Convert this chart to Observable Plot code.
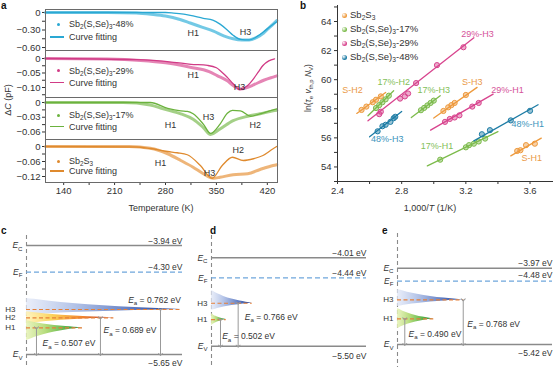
<!DOCTYPE html>
<html><head><meta charset="utf-8">
<script src="https://cdn.jsdelivr.net/npm/d3@7"></script>
<script src="https://cdn.jsdelivr.net/npm/@observablehq/plot@0.6"></script>
<style>
body{margin:0;background:#fff;font-family:"Liberation Sans",Arial,Helvetica,sans-serif;}
#fig{position:relative;width:553px;height:367px;overflow:hidden;background:#fff;}
.t{position:absolute;font-size:9px;color:#333;white-space:nowrap;line-height:10px;}
.t sub{font-size:70%;vertical-align:-0.3em;line-height:0;}
.lab{position:absolute;font-weight:bold;font-size:10px;color:#111;line-height:10px;}
.sw{position:absolute;}
</style></head><body><div id="fig"></div>
<script>
// ---------------- DATA ----------------
// Panel a : temperature (K) and ΔC (pF)
const aXTicks = [140,175,210,245,280,315,350,385,420];
const aXLabels = [140,210,280,350,420];

const a48DataT = [115,200,240,260,280,300,314,330,346,360,373,385,395,405,413,420,428,433];
const a48DataV = [0,0,-0.01,-0.03,-0.06,-0.12,-0.18,-0.25,-0.32,-0.40,-0.45,-0.47,-0.47,-0.43,-0.37,-0.29,-0.20,-0.14];
const a48FitT  = [115,280,291,305,314,332,345,355,365,373,383,395,406,415,424,433];
const a48FitV  = [0,0,-0.01,-0.03,-0.05,-0.10,-0.13,-0.20,-0.30,-0.39,-0.46,-0.47,-0.41,-0.33,-0.24,-0.16];

const a29DataT = [115,200,246,280,314,340,351,365,373,383,392,401,415,428,433];
const a29DataV = [0,-0.002,-0.007,-0.015,-0.03,-0.045,-0.059,-0.077,-0.093,-0.105,-0.10,-0.091,-0.075,-0.064,-0.06];
const a29FitT  = [115,240,291,315,338,350,355,365,373,382,392,401,408,414,422,430];
const a29FitV  = [0,-0.004,-0.013,-0.02,-0.024,-0.032,-0.041,-0.065,-0.087,-0.107,-0.095,-0.07,-0.045,-0.024,-0.008,-0.001];

const a17DataT = [115,222,259,277,301,318,332,342,355,373,393,410,428,433];
const a17DataV = [0,0,-0.005,-0.013,-0.023,-0.034,-0.051,-0.065,-0.054,-0.037,-0.028,-0.023,-0.017,-0.016];
const a17FitT  = [115,259,283,301,310,318,332,342,355,365,372,383,397,410,428,433];
const a17FitV  = [0,0,-0.012,-0.017,-0.018,-0.023,-0.044,-0.063,-0.044,-0.022,-0.016,-0.017,-0.028,-0.023,-0.015,-0.013];

const aSDataT = [115,230,259,283,301,318,332,346,355,373,393,410,428,433];
const aSDataV = [0,0,-0.007,-0.029,-0.056,-0.083,-0.109,-0.127,-0.123,-0.113,-0.109,-0.092,-0.076,-0.073];
const aSFitT  = [115,240,259,283,296,310,328,344,358,372,387,401,414,428,433];
const aSFitV  = [0,-0.002,-0.008,-0.02,-0.025,-0.033,-0.076,-0.127,-0.076,-0.043,-0.056,-0.049,-0.036,-0.009,0];

const aSamples = ["Sb_{2}(S,Se)_{3}-48%","Sb_{2}(S,Se)_{3}-29%","Sb_{2}(S,Se)_{3}-17%","Sb_{2}S_{3}"];

// Panel b : 1000/T (1/K) and ln(τ v N)
const bXTicks = [2.4,2.6,2.8,3.0,3.2,3.4,3.6];
const bXLabels = [2.4,2.8,3.2,3.6];
const bYTicks = [53,54,55,56,57,58,59,60,61,62,63,64,65];
const bYLabels = [54,56,58,60,62,64];
const bSamples = ["Sb_{2}S_{3}","Sb_{2}(S,Se)_{3}-17%","Sb_{2}(S,Se)_{3}-29%","Sb_{2}(S,Se)_{3}-48%"];
const bTraps      = ["S-H2","17%-H2","17%-H3","S-H3","29%-H3","29%-H1","48%-H3","17%-H1","48%-H1","S-H1"];
const bTrapSample = [0,1,1,0,2,2,3,1,3,0];
const bFitStart = [[2.52,57.68],[2.59,57.52],[2.86,57.40],[3.00,57.36],[2.59,57.17],[2.98,56.53],[2.60,56.07],[2.96,54.07],[3.25,55.79],[3.48,54.76]];
const bFitEnd   = [[2.70,59.12],[2.75,59.24],[3.04,58.90],[3.27,59.47],[3.25,62.88],[3.37,59.01],[2.80,57.81],[3.40,56.43],[3.65,58.28],[3.67,55.98]];
const bPoints = [
  [[2.55,57.92],[2.58,58.15],[2.62,58.45],[2.64,58.62],[2.67,58.85]],
  [[2.64,58.05],[2.66,58.25],[2.68,58.45],[2.70,58.65],[2.72,58.90]],
  [[2.92,57.90],[2.94,58.06],[2.96,58.23],[2.98,58.40],[3.00,58.56]],
  [[3.06,57.85],[3.09,58.10],[3.11,58.25],[3.13,58.40],[3.20,58.95]],
  [[2.66,57.63],[2.67,57.80],[2.79,58.70],[2.82,58.85],[2.84,59.05],[2.89,59.77],[3.02,61.00],[3.185,62.23]],
  [[3.07,57.10],[3.10,57.30],[3.13,57.40],[3.16,57.55],[3.24,58.15],[3.28,58.40]],
  [[2.65,56.45],[2.68,56.80],[2.70,56.90],[2.73,57.10],[2.75,57.35],[2.76,57.45]],
  [[3.04,54.50],[3.20,55.35],[3.22,55.50],[3.25,55.60],[3.28,55.75],[3.32,55.95]],
  [[3.30,56.25],[3.35,56.53],[3.48,57.20],[3.60,57.86]],
  [[3.52,55.10],[3.54,55.15],[3.575,55.50],[3.63,55.60]]
];

// Panels c, d, e : energy levels (eV)
const cLevels = {EC:-3.94, EF:-4.359, EV:-5.65};
const cLevelText = ["−3.94 eV","−4.30 eV","−5.65 eV"];
const cTrapNames = ["H3","H2","H1"];
const cTrapLevel = [-4.944,-5.074,-5.231];
const cEa = ["0.762","0.689","0.507"];

const dLevels = {EC:-4.01, EF:-4.347, EV:-5.50};
const dLevelText = ["−4.01 eV","−4.44 eV","−5.50 eV"];
const dTrapNames = ["H3","H1"];
const dTrapLevel = [-4.776,-5.051];
const dEa = ["0.766","0.502"];

const eLevels = {EC:-3.97, EF:-4.217, EV:-5.42};
const eLevelText = ["−3.97 eV","−4.48 eV","−5.42 eV"];
const eTrapNames = ["H3","H1"];
const eTrapLevel = [-4.571,-4.932];
const eEa = ["0.768","0.490"];

// taper profile of the trap distributions
const wedgeT = [0,0.05,0.15,0.3,0.5,0.7,0.85,1];
const wedgeH = [1,0.92,0.74,0.54,0.33,0.17,0.08,0];

// ---------------- HELPERS ----------------
const NS = "http://www.w3.org/2000/svg";
const FONT = "'Liberation Sans', Arial, Helvetica, sans-serif";
const fig = document.getElementById("fig");
function mount(el, left, top){ el.style.position="absolute"; el.style.left=left+"px"; el.style.top=top+"px"; fig.appendChild(el);
  el.querySelectorAll("text").forEach(t=>{ if(!t.textContent.trim()) t.remove(); }); return el; }
function html(s){ return s.replace(/_\{([^}]*)\}/g,"<sub>$1</sub>").replace(/\*([^*]*)\*/g,"<i>$1</i>"); }
function note(text, left, top, opts={}){
  const d=document.createElement("div"); d.className=opts.cls||"t"; d.innerHTML=html(text);
  d.style.left=left+"px"; d.style.top=top+"px";
  if(opts.color) d.style.color=opts.color;
  if(opts.size) d.style.fontSize=opts.size+"px";
  if(opts.transform) d.style.transform=opts.transform;
  fig.appendChild(d); return d;
}
function rich(root){
  root.querySelectorAll("text").forEach(t=>{
    const tsp=[...t.querySelectorAll("tspan")];
    const targets=tsp.length?tsp:[t];
    for(const el of targets){
      const s=el.textContent;
      if(!/_\{|\*/.test(s)) continue;
      el.textContent="";
      const re=/_\{([^}]*)\}|\*([^*]*)\*/g; let last=0,m,shift=0;
      const add=(txt,attrs)=>{const ts=document.createElementNS(NS,"tspan");ts.textContent=txt;
        let dy=0; if(attrs.sub){dy=2.5-shift;shift=2.5;} else {dy=-shift;shift=0;}
        if(dy) ts.setAttribute("dy",dy);
        if(attrs.sub) ts.setAttribute("font-size","72%");
        if(attrs.it) ts.setAttribute("font-style","italic");
        el.appendChild(ts);};
      while((m=re.exec(s))){
        if(m.index>last) add(s.slice(last,m.index),{});
        if(m[1]!==undefined) add(m[1],{sub:true}); else add(m[2],{it:true});
        last=re.lastIndex;
      }
      if(last<s.length) add(s.slice(last),{});
    }
  });
}
function addGradient(svg, id, stops){
  let defs=svg.querySelector("defs"); if(!defs){defs=document.createElementNS(NS,"defs"); svg.insertBefore(defs, svg.firstChild);}
  const g=document.createElementNS(NS,"linearGradient"); g.setAttribute("id",id);
  g.setAttribute("x1","0"); g.setAttribute("x2","1"); g.setAttribute("y1","0"); g.setAttribute("y2","0");
  for(const [o,c,a] of stops){const s=document.createElementNS(NS,"stop"); s.setAttribute("offset",o); s.setAttribute("stop-color",c); s.setAttribute("stop-opacity",a); g.appendChild(s);}
  defs.appendChild(g);
}
const baseStyle = {fontFamily: FONT, fontSize:"9px", background:"transparent", color:"#333", overflow:"visible"};

// ---------------- PANEL a ----------------
function aPanel(o){
  const data=o.dataT.map((T,i)=>({T,v:o.dataV[i]}));
  const fit=o.fitT.map((T,i)=>({T,v:o.fitV[i]}));
  const mb=o.bottom?31:1;
  const fmt=d3.format(".2f");
  const svg=Plot.plot({
    width:280, height:o.h+1+mb, marginLeft:45, marginRight:3, marginTop:1, marginBottom:mb,
    style:{...baseStyle, fontSize:"9.5px"},
    x: o.bottom ? {domain:[115,434], ticks:aXTicks, tickFormat:d=>aXLabels.includes(d)?String(d):"", tickSize:3, tickPadding:2, label:null}
                : {domain:[115,434], axis:null},
    y: {domain:o.domain, ticks:o.ticks, tickSize:3, tickPadding:2, label:null,
        tickFormat:d=>o.majors.some(m=>Math.abs(m-d)<1e-9)?(d===0?"0":fmt(d)):""},
    marks:[
      Plot.line(data,{x:"T",y:"v",stroke:o.dataColor,strokeWidth:3,strokeOpacity:0.85,curve:"monotone-x"}),
      Plot.line(fit,{x:"T",y:"v",stroke:o.color,strokeWidth:1.3,curve:"monotone-x"}),
      Plot.text(o.labels,{x:"T",y:"v",text:"name",fontSize:9,fill:"#333"}),
      Plot.frame({stroke:"#6a6a6a"})
    ]
  });
  mount(svg,0,o.top-1);
  // legend
  note(aSamples[o.k], 69, o.legY-5);
  const dot=document.createElement("div"); dot.className="sw";
  Object.assign(dot.style,{left:(57)+"px",top:(o.legY-1.5)+"px",width:"3px",height:"3px",borderRadius:"50%",background:o.color});
  fig.appendChild(dot);
  const ln=document.createElement("div"); ln.className="sw";
  Object.assign(ln.style,{left:"50px",top:(o.legY2-0.75)+"px",width:"14px",height:"1.5px",background:o.color});
  fig.appendChild(ln);
  note("Curve fitting", 69, o.legY2-5);
}
aPanel({k:0,top:9,h:41,dataT:a48DataT,dataV:a48DataV,fitT:a48FitT,fitV:a48FitV,color:"#2AA8D3",dataColor:"#5BBFE0",
  domain:[-0.651,0.051],ticks:[0,-0.15,-0.3,-0.45,-0.6],majors:[0,-0.3,-0.6],
  labels:[{T:318,v:-0.36,name:"H1"},{T:390,v:-0.343,name:"H3"}],legY:24,legY2:37});
aPanel({k:1,top:50,h:47,dataT:a29DataT,dataV:a29DataV,fitT:a29FitT,fitV:a29FitV,color:"#D13B86",dataColor:"#E070A8",
  domain:[-0.1345,0.0276],ticks:[0,-0.025,-0.05,-0.075,-0.1,-0.125],majors:[0,-0.05,-0.1],
  labels:[{T:318,v:-0.0586,name:"H1"},{T:381.6,v:-0.1,name:"H3"}],legY:70.7,legY2:82.7});
aPanel({k:2,top:97,h:42,dataT:a17DataT,dataV:a17DataV,fitT:a17FitT,fitV:a17FitV,color:"#6BB23E",dataColor:"#94C872",
  domain:[-0.0753,0.0102],ticks:[0,-0.015,-0.03,-0.045,-0.06],majors:[0,-0.03,-0.06],
  labels:[{T:287,v:-0.0468,name:"H1"},{T:339,v:-0.0305,name:"H3"},{T:403.5,v:-0.0468,name:"H2"}],legY:115,legY2:126.7});
aPanel({k:3,top:139,h:43,bottom:true,dataT:aSDataT,dataV:aSDataV,fitT:aSFitT,fitV:aSFitV,color:"#DF8A2E",dataColor:"#EBA862",
  domain:[-0.144,0.028],ticks:[0,-0.03,-0.06,-0.09,-0.12],majors:[0,-0.06,-0.12],
  labels:[{T:273,v:-0.068,name:"H1"},{T:340.4,v:-0.108,name:"H3"},{T:380,v:-0.016,name:"H2"}],legY:161,legY2:171});
note("Δ*C* (pF)", 8, 100, {transform:"translate(-50%,-50%) rotate(-90deg)", size:9});
note("Temperature (K)", 161, 208, {transform:"translate(-50%,-50%)", size:9});
note("a", 1, 1, {cls:"lab"});

// ---------------- PANEL b ----------------
const bColors = ["#EE9A3D","#7CBB4B","#D8448E","#1D7CA5"];
const bTextColors = ["#EA9A48","#84C05A","#D5539A","#3C94BC"];
const bLabelPos = [[2.494,59.3],[2.75,59.86],[3.0,59.3],[3.24,59.86],[3.273,63.15],[3.46,59.3],[2.71,55.9],[3.02,55.4],[3.586,56.94],[3.61,54.64]];
{
  const marks=[];
  bTraps.forEach((name,i)=>{
    const c=bColors[bTrapSample[i]];
    marks.push(Plot.line([bFitStart[i],bFitEnd[i]],{x:d=>d[0],y:d=>d[1],stroke:c,strokeWidth:1.3}));
    marks.push(Plot.dot(bPoints[i],{x:d=>d[0],y:d=>d[1],r:2.6,fill:c,fillOpacity:0.45,stroke:c,strokeWidth:1}));
    marks.push(Plot.text([bLabelPos[i]],{x:d=>d[0],y:d=>d[1],text:()=>name,fill:bTextColors[bTrapSample[i]],fontSize:9}));
  });
  const svg=Plot.plot({
    width:263,height:211,marginLeft:47,marginRight:1,marginTop:5,marginBottom:30,
    style:{...baseStyle,fontSize:"9.5px"},
    x:{domain:[2.4,3.74],ticks:bXTicks,tickSize:3,tickPadding:3,line:true,label:null,
       tickFormat:d=>bXLabels.some(m=>Math.abs(m-d)<1e-9)?d3.format(".1f")(d):""},
    y:{domain:[53,65.1],ticks:bYTicks,tickSize:3,tickPadding:3,line:true,label:null,
       tickFormat:d=>bYLabels.includes(d)?String(d):""},
    marks
  });
  mount(svg,290,0);
  bSamples.forEach((s,i)=>{
    const y=[15,29,43,57][i];
    const b=document.createElement("div"); b.className="sw";
    Object.assign(b.style,{left:"341.5px",top:(y-2.5)+"px",width:"5px",height:"5px",borderRadius:"50%",
      background:`radial-gradient(circle at 35% 35%, #fff 0, ${bColors[i]} 60%)`});
    fig.appendChild(b);
    note(s,350,y-5,{size:9.5});
  });
  note("ln(*τ*_{e} *v*_{th,p} *N*_{V})",308,88,{transform:"translate(-50%,-50%) rotate(-90deg)",size:8.5});
  note("1,000/*T* (1/K)",430,208,{transform:"translate(-50%,-50%)",size:9});
  note("b",300,1,{cls:"lab"});
}

// ---------------- PANELS c, d, e ----------------
const gradBlue  =[[0,"#e2e8f7",0.75],[0.3,"#aebfe6",0.9],[0.7,"#5b78c0",1],[1,"#1d3b8f",1]];
const gradOrange=[[0,"#fff3b5",0.85],[0.3,"#fcd25a",1],[0.65,"#f2822a",1],[1,"#a31c14",1]];
const gradGreen =[[0,"#e6f2b5",0.85],[0.35,"#b5dc7c",1],[0.7,"#5cb54c",1],[1,"#2a8a3c",1]];

function bandPanel(o){
  const {EC,EF,EV}=o.levels;
  const traps=o.names.map((n,i)=>({name:n,level:o.trapLevel[i],...o.trapGeom[i],ea:o.ea[i]}));
  const marks=[
    Plot.ruleX([0],{stroke:"#8a8a8a",strokeDasharray:"4,3",strokeWidth:1.1,insetTop:o.dashTop,insetBottom:-o.mb})
  ];
  traps.forEach(tr=>{
    const pts=wedgeT.map((t,i)=>({x:t*tr.len,y1:tr.level+tr.up*wedgeH[i],y2:tr.level-tr.down*wedgeH[i]}));
    marks.push(Plot.areaY(pts,{x:"x",y1:"y1",y2:"y2",fill:`url(#${tr.grad})`,curve:"monotone-x"}));
  });
  marks.push(
    Plot.ruleY([EC,EV],{x1:0,x2:1,stroke:"#8a8a8a",strokeWidth:1.4}),
    Plot.ruleY([EF],{x1:0,x2:1,stroke:"#6FA6DC",strokeDasharray:"5,3",strokeWidth:1.2}),
    Plot.ruleY(traps,{y:"level",x1:0,x2:"len",stroke:"#E5803A",strokeDasharray:"4,2.5",strokeWidth:1.2}),
    Plot.link(traps,{x1:"ax",x2:"ax",y1:"level",y2:EV,stroke:"#999",strokeWidth:1,markerStart:"arrow",markerEnd:"arrow"}),
    Plot.text([{s:"*E*_{C}",y:EC},{s:"*E*_{F}",y:EF},{s:"*E*_{V}",y:EV}],{x:0,y:"y",text:"s",dx:-4,textAnchor:"end",fontSize:8.5,fill:"#333"}),
    Plot.text(traps,{x:0,y:"level",text:"name",dx:o.trapDx,textAnchor:"end",fontSize:8,fill:"#333"}),
    Plot.text([{s:o.levelText[0],y:EC},{s:o.levelText[1],y:EF},{s:o.levelText[2],y:EV}],
      {x:1,y:"y",text:"s",textAnchor:"end",fontSize:8.5,fill:"#333"}),
    Plot.text(traps.filter(t=>t.anchor!=="end"),{x:"eaX",y:"eaY",text:d=>`*E*_{a} = ${d.ea} eV`,textAnchor:"start",fontSize:8.5,fill:"#333"}),
    Plot.text(traps.filter(t=>t.anchor==="end"),{x:"eaX",y:"eaY",text:d=>`*E*_{a} = ${d.ea} eV`,textAnchor:"end",fontSize:8.5,fill:"#333"})
  );
  const svg=Plot.plot({
    width:o.width,height:142,marginLeft:o.ml,marginRight:o.mr,marginTop:o.mt,marginBottom:o.mb,
    style:{...baseStyle,fontSize:"8.5px"},
    x:{domain:[0,1],axis:null},
    y:{domain:[EV,EC],axis:null},
    marks
  });
  mount(svg,o.left,225);
  o.grads.forEach(([id,st])=>addGradient(svg,id,st));
  // value labels sit just above / below their level lines
  svg.querySelectorAll("text").forEach(t=>{
    const i=o.levelText.indexOf(t.textContent);
    if(i>=0) t.setAttribute("transform",(t.getAttribute("transform")||"")+` translate(0,${o.valDy[i]})`);
  });
  rich(svg);
  note(o.letter,o.letterX,226,{cls:"lab"});
  return svg;
}
bandPanel({letter:"c",letterX:1,left:0,width:185,ml:26,mr:3,mt:20,mb:13,dashTop:-10,trapDx:-11,
  levels:cLevels,levelText:cLevelText,names:cTrapNames,trapLevel:cTrapLevel,ea:cEa,valDy:[-4.5,-4.5,9],
  trapGeom:[{len:0.99,up:0.173,down:0.09,ax:0.859,grad:"gc3",eaX:0.99,eaY:-4.792,anchor:"end"},
            {len:0.56,up:0.095,down:0.095,ax:0.474,grad:"gc2",eaX:0.494,eaY:-5.274},
            {len:0.36,up:0.11,down:0.2,ax:0.064,grad:"gc1",eaX:0.103,eaY:-5.478}],
  grads:[["gc3",gradBlue],["gc2",gradOrange],["gc1",gradGreen]]});
bandPanel({letter:"d",letterX:210,left:185,width:182,ml:26,mr:1,mt:32.3,mb:21.3,dashTop:-22.3,trapDx:-4,
  levels:dLevels,levelText:dLevelText,names:dTrapNames,trapLevel:dTrapLevel,ea:dEa,valDy:[-5,-5,10],
  trapGeom:[{len:0.263,up:0.214,down:0.12,ax:0.172,grad:"gd3",eaX:0.215,eaY:-5.011},
            {len:0.095,up:0.1,down:0.1,ax:0.058,grad:"gd1",eaX:0.069,eaY:-5.336}],
  grads:[["gd3",gradBlue],["gd1",gradGreen]]});
bandPanel({letter:"e",letterX:382,left:367,width:186,ml:30,mr:1,mt:42.7,mb:23,dashTop:-34.7,trapDx:-4,
  levels:eLevels,levelText:eLevelText,names:eTrapNames,trapLevel:eTrapLevel,ea:eEa,valDy:[-4.5,-5.5,9],
  trapGeom:[{len:0.428,up:0.196,down:0.127,ax:0.424,grad:"ge3",eaX:0.45,eaY:-5.027},
            {len:0.234,up:0.196,down:0.184,ax:0.047,grad:"ge1",eaX:0.071,eaY:-5.217}],
  grads:[["ge3",gradBlue],["ge1",gradGreen]]});
</script></body></html>
